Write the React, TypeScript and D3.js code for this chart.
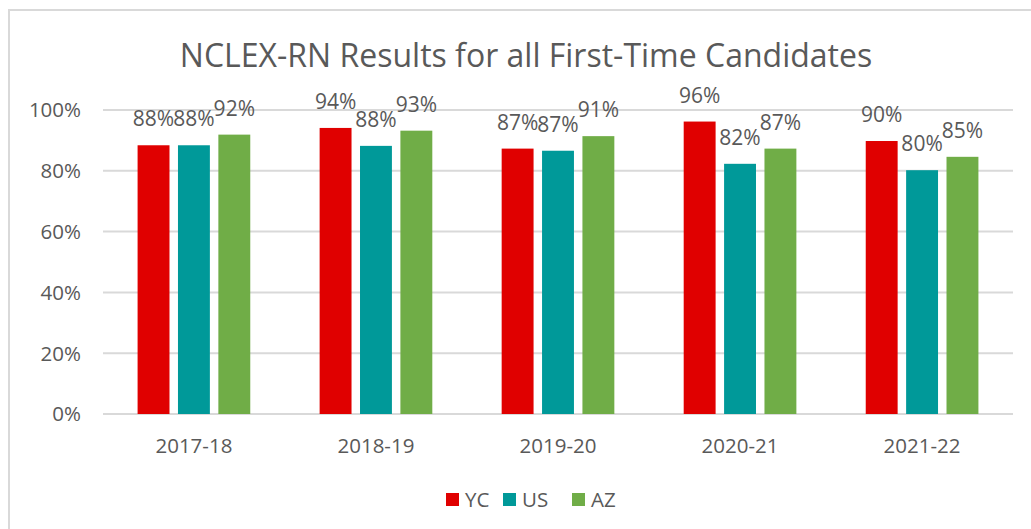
import { useRef, useEffect } from "react";
import * as d3 from "d3";

const years = ["2017-18", "2018-19", "2019-20", "2020-21", "2021-22"];
const series = ["YC", "US", "AZ"];
const yc = [0.884, 0.941, 0.873, 0.962, 0.898];
const us = [0.884, 0.882, 0.866, 0.823, 0.802];
const az = [0.919, 0.932, 0.914, 0.873, 0.846];
const yTicks = [0, 0.2, 0.4, 0.6, 0.8, 1];
const colors = ["#e00000", "#009999", "#70ad47"];

export default function App() {
  const width = 1031;
  const height = 529;
  const root = useRef<SVGSVGElement>(null);

  useEffect(() => {
    const svg = d3.select(root.current);
    svg.selectAll("*").remove();
    const font = "'Open Sans', sans-serif";
    const textColor = "#595959";
    const values = [yc, us, az];

    const x0 = d3.scaleBand<string>().domain(years).range([103, 1013]).paddingInner(0.381).paddingOuter(0.19);
    const x1 = d3.scaleBand<string>().domain(series).range([0, x0.bandwidth()]).paddingInner(0.21);
    const y = d3.scaleLinear().domain([0, 1]).range([414, 110]);

    // chart frame
    svg.append("rect")
      .attr("x", 9).attr("y", 10).attr("width", 1100).attr("height", 700)
      .attr("fill", "#fff").attr("stroke", "#d9d9d9").attr("stroke-width", 2);

    svg.append("text")
      .attr("x", 526).attr("y", 67)
      .attr("text-anchor", "middle")
      .attr("font-family", font).attr("font-size", 32).attr("fill", textColor)
      .text("NCLEX-RN Results for all First-Time Candidates");

    // grid + y labels
    const grid = svg.append("g");
    grid.selectAll("line").data(yTicks).enter().append("line")
      .attr("x1", 103).attr("x2", 1013)
      .attr("y1", d => y(d)).attr("y2", d => y(d))
      .attr("stroke", "#d9d9d9").attr("stroke-width", 2);
    grid.selectAll("text").data(yTicks).enter().append("text")
      .attr("x", 81).attr("y", d => y(d)).attr("dy", "0.36em")
      .attr("text-anchor", "end")
      .attr("font-family", font).attr("font-size", 20.5).attr("fill", textColor)
      .text(d => d3.format(".0%")(d));

    // bars
    const groups = svg.selectAll("g.year").data(years).enter().append("g")
      .attr("class", "year")
      .attr("transform", d => "translate(" + x0(d) + ",0)");
    groups.selectAll("rect")
      .data((_, i) => series.map((s, j) => ({ s, j, v: values[j][i] })))
      .enter().append("rect")
      .attr("x", d => x1(d.s)!)
      .attr("width", x1.bandwidth())
      .attr("y", d => y(d.v))
      .attr("height", d => y(0) - y(d.v))
      .attr("fill", d => colors[d.j]);
    groups.selectAll("text.lbl")
      .data((_, i) => series.map((s, j) => ({ s, j, v: values[j][i] })))
      .enter().append("text")
      .attr("class", "lbl")
      .attr("x", d => x1(d.s)! + x1.bandwidth() / 2)
      .attr("y", d => y(d.v) - 19)
      .attr("text-anchor", "middle")
      .attr("font-family", font).attr("font-size", 21).attr("fill", textColor)
      .text(d => Math.round(d.v * 100) + "%");

    // x labels
    svg.append("g").selectAll("text").data(years).enter().append("text")
      .attr("x", d => x0(d)! + x0.bandwidth() / 2)
      .attr("y", 453)
      .attr("text-anchor", "middle")
      .attr("font-family", font).attr("font-size", 20.5).attr("fill", textColor)
      .text(d => d);

    // legend
    const legendX = [446, 503, 572];
    const legend = svg.append("g").selectAll("g").data(series).enter().append("g")
      .attr("transform", (_, i) => "translate(" + legendX[i] + ",493)");
    legend.append("rect")
      .attr("width", 13).attr("height", 13)
      .attr("fill", (_, i) => colors[i]);
    legend.append("text")
      .attr("x", 19).attr("y", 14)
      .attr("font-family", font).attr("font-size", 20.5).attr("fill", textColor)
      .text(d => d);
  }, []);

  return (
    <div>
      <svg ref={root} width={width} height={height} style={{ position: "absolute", left: 0, top: 0, background: "#fff" }} />
    </div>
  );
}
